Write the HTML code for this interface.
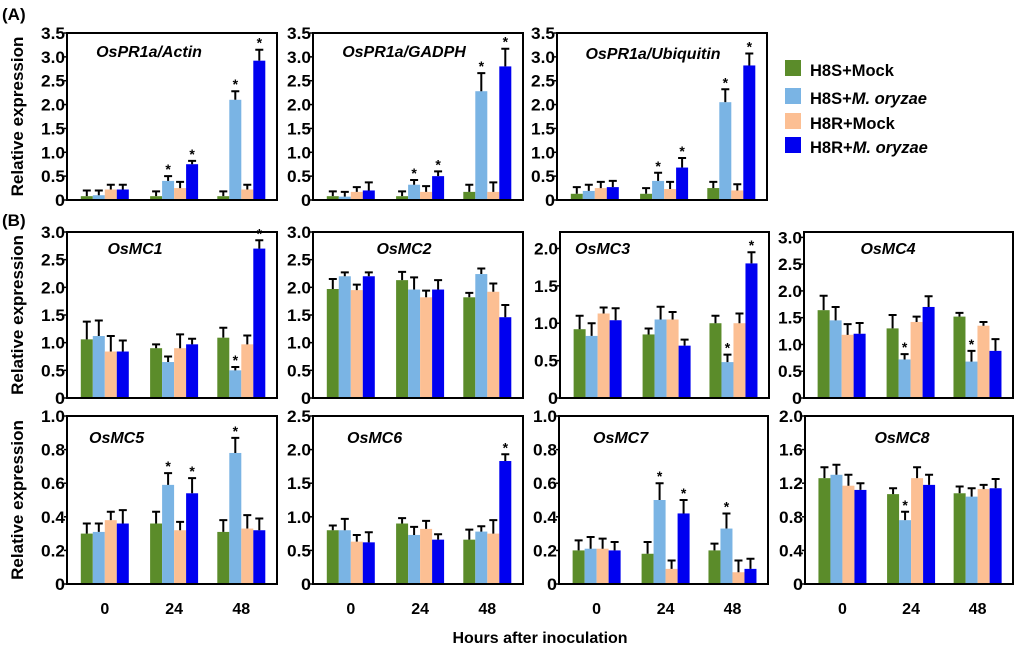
<!DOCTYPE html>
<html><head><meta charset="utf-8">
<style>
body{margin:0;background:#fff;width:1024px;height:656px;overflow:hidden}
svg text{font-family:"Liberation Sans",Arial,sans-serif;font-weight:bold}
</style></head>
<body>
<svg id="fig" width="1024" height="656" viewBox="0 0 1024 656" xmlns="http://www.w3.org/2000/svg">
<text x="2" y="20" font-size="17">(A)</text>
<text x="2" y="226" font-size="17">(B)</text>
<text x="540" y="643" font-size="16" text-anchor="middle">Hours after inoculation</text>
<g>
<rect x="785" y="60" width="16" height="16" fill="#5b8c2a"/>
<text x="810" y="76" font-size="16.5">H8S+Mock</text>
<rect x="785" y="88" width="16" height="16" fill="#7ab4e4"/>
<text x="810" y="104" font-size="16.5">H8S+<tspan font-style="italic">M. oryzae</tspan></text>
<rect x="785" y="113" width="16" height="16" fill="#fcbf93"/>
<text x="810" y="129" font-size="16.5">H8R+Mock</text>
<rect x="785" y="137" width="16" height="16" fill="#0000f0"/>
<text x="810" y="153" font-size="16.5">H8R+<tspan font-style="italic">M. oryzae</tspan></text>
</g>
</svg>
<script>
const categories=["0","24","48"];
const seriesNames=["H8S+Mock","H8S+M. oryzae","H8R+Mock","H8R+M. oryzae"];
const colors=["#5b8c2a","#7ab4e4","#fcbf93","#0000f0"];
const actinVals=[[.08,.1,.22,.22],[.08,.4,.25,.75],[.08,2.1,.22,2.92]];
const actinErr=[[.12,.1,.1,.1],[.1,.1,.13,.07],[.1,.18,.1,.23]];
const gadphVals=[[.08,.07,.17,.2],[.08,.32,.17,.5],[.17,2.28,.17,2.8]];
const gadphErr=[[.1,.1,.1,.17],[.1,.1,.12,.1],[.15,.38,.2,.37]];
const ubiVals=[[.13,.19,.25,.27],[.13,.4,.23,.68],[.25,2.05,.2,2.82]];
const ubiErr=[[.14,.13,.13,.13],[.12,.17,.15,.2],[.13,.27,.13,.25]];
const mc1Vals=[[1.06,1.12,.84,.84],[.9,.65,.9,.97],[1.09,.5,.97,2.7]];
const mc1Err=[[.32,.28,.28,.2],[.07,.1,.25,.1],[.18,.06,.16,.15]];
const mc2Vals=[[1.97,2.2,1.95,2.2],[2.13,1.96,1.82,1.96],[1.82,2.24,1.92,1.46]];
const mc2Err=[[.18,.07,.1,.07],[.15,.22,.12,.17],[.08,.1,.15,.22]];
const mc3Vals=[[.92,.83,1.13,1.04],[.85,1.05,1.05,.7],[1.0,.48,1.0,1.8]];
const mc3Err=[[.18,.17,.08,.16],[.08,.17,.1,.08],[.1,.1,.13,.15]];
const mc4Vals=[[1.64,1.45,1.18,1.2],[1.3,.72,1.42,1.7],[1.52,.68,1.35,.88]];
const mc4Err=[[.27,.25,.2,.2],[.25,.1,.1,.2],[.07,.2,.07,.22]];
const mc5Vals=[[.3,.31,.38,.36],[.36,.59,.32,.54],[.31,.78,.33,.32]];
const mc5Err=[[.06,.05,.05,.08],[.07,.07,.05,.09],[.07,.09,.08,.07]];
const mc6Vals=[[.8,.8,.63,.62],[.9,.73,.82,.66],[.66,.78,.75,1.83]];
const mc6Err=[[.07,.17,.1,.15],[.08,.12,.12,.08],[.15,.08,.2,.1]];
const mc7Vals=[[.2,.21,.21,.2],[.18,.5,.09,.42],[.2,.33,.07,.09]];
const mc7Err=[[.06,.07,.06,.05],[.07,.1,.05,.08],[.04,.09,.07,.06]];
const mc8Vals=[[1.26,1.3,1.17,1.12],[1.07,.76,1.26,1.18],[1.08,1.04,1.13,1.14]];
const mc8Err=[[.13,.12,.13,.08],[.07,.1,.13,.12],[.08,.1,.05,.11]];
const ticks35=["0","0.5","1.0","1.5","2.0","2.5","3.0","3.5"];
const ticks30=["0","0.5","1.0","1.5","2.0","2.5","3.0"];
const ticks20=["0","0.5","1.0","1.5","2.0"];
const ticks25=["0","0.5","1.0","1.5","2.0","2.5"];
const ticks10=["0","0.2","0.4","0.6","0.8","1.0"];
const ticks8=["0","0.4","0.8","1.2","1.6","2.0"];
const starsPR=[[1,1],[1,3],[2,1],[2,3]];
const starsMC1=[[2,1],[2,3]];
const starsMC4=[[1,1],[2,1]];
const starsMC5=[[1,1],[1,3],[2,1]];
const starsMC6=[[2,3]];
const starsMC8=[[1,1]];

const panels=[
 {id:"actin",title:"OsPR1a/Actin",x:67,w:210,top:33,bot:200,max:3.5,ticks:ticks35,v:actinVals,e:actinErr,s:starsPR,tx:149,ty:57,anchor:"middle",ylab:true},
 {id:"gadph",title:"OsPR1a/GADPH",x:313,w:210,top:33,bot:200,max:3.5,ticks:ticks35,v:gadphVals,e:gadphErr,s:starsPR,tx:404,ty:57,anchor:"middle"},
 {id:"ubiquitin",title:"OsPR1a/Ubiquitin",x:557,w:210,top:33,bot:200,max:3.5,ticks:ticks35,v:ubiVals,e:ubiErr,s:starsPR,tx:653,ty:59,anchor:"middle"},
 {id:"osmc1",title:"OsMC1",x:67,w:210,top:232,bot:398,max:3.0,ticks:ticks30,v:mc1Vals,e:mc1Err,s:starsMC1,tx:135,ty:254,anchor:"middle",ylab:true},
 {id:"osmc2",title:"OsMC2",x:313,w:210,top:232,bot:398,max:3.0,ticks:ticks30,v:mc2Vals,e:mc2Err,s:[],tx:404,ty:254,anchor:"middle"},
 {id:"osmc3",title:"OsMC3",x:560,w:209,top:232,bot:398,max:2.22,ticks:ticks20,v:mc3Vals,e:mc3Err,s:starsMC1,tx:575,ty:254,anchor:"start"},
 {id:"osmc4",title:"OsMC4",x:804,w:209,top:232,bot:398,max:3.1,ticks:ticks30,v:mc4Vals,e:mc4Err,s:starsMC4,tx:888,ty:254,anchor:"middle"},
 {id:"osmc5",title:"OsMC5",x:67,w:210,top:416,bot:584,max:1.0,ticks:ticks10,v:mc5Vals,e:mc5Err,s:starsMC5,tx:89,ty:443,anchor:"start",ylab:true,xl:true},
 {id:"osmc6",title:"OsMC6",x:313,w:210,top:416,bot:584,max:2.5,ticks:ticks25,v:mc6Vals,e:mc6Err,s:starsMC6,tx:347,ty:443,anchor:"start",xl:true},
 {id:"osmc7",title:"OsMC7",x:559,w:209,top:416,bot:584,max:1.0,ticks:ticks10,v:mc7Vals,e:mc7Err,s:starsMC5,tx:593,ty:443,anchor:"start",xl:true},
 {id:"osmc8",title:"OsMC8",x:805,w:208,top:416,bot:584,max:2.0,ticks:ticks8,v:mc8Vals,e:mc8Err,s:starsMC8,tx:902,ty:443,anchor:"middle",xl:true}
];
const NS="http://www.w3.org/2000/svg";
const svg=document.getElementById("fig");
function mk(tag,attrs,parent){const el=document.createElementNS(NS,tag);for(const k in attrs)el.setAttribute(k,attrs[k]);(parent||svg).appendChild(el);return el;}
const groupFrac=[0.18,0.51,0.83];
const BW=12;
panels.forEach(p=>{
  const g=mk("g",{});
  
  
  const y=v=>p.bot-(v/p.max)*(p.bot-p.top);
  const xc=i=>p.x+groupFrac[i]*p.w;
  p.ticks.forEach(t=>{
    const ty=y(parseFloat(t));
    const tl=mk("text",{x:p.x-2,y:ty+6,"font-size":17,"text-anchor":"end",textLength:t.length>1?24:10,lengthAdjust:"spacingAndGlyphs"},g);
    tl.textContent=t;
    
    
    const tk=mk("line",{x1:p.x-3,x2:p.x,y1:ty,y2:ty,stroke:"#000","stroke-width":1.5},g);
    
    
  });
  p.v.forEach((grp,gi)=>{
    grp.forEach((val,si)=>{
      const bx=xc(gi)+(si-2)*BW;
      const by=y(val);
      const r=mk("rect",{x:bx,y:by,width:BW,height:p.bot-by,fill:colors[si]},g);
      
      
      const ey=y(val+p.e[gi][si]);
      const cx=bx+BW/2;
      const el=mk("path",{d:`M${cx} ${by}V${ey}M${cx-4} ${ey}H${cx+4}`,stroke:"#000","stroke-width":2,fill:"none"},g);
      
      
    });
  });
  p.s.forEach(([gi,si])=>{
    const val=p.v[gi][si]+p.e[gi][si];
    const st=mk("text",{x:xc(gi)+(si-2)*BW+BW/2,y:y(val)-2,"font-size":14,"text-anchor":"middle","font-weight":"normal"},g);
    st.textContent="*";
    
    
  });
  const box=mk("rect",{x:p.x,y:p.top,width:p.w,height:p.bot-p.top,fill:"none",stroke:"#000","stroke-width":2},g);
  
  
  const t=mk("text",{x:p.tx,y:p.ty,"font-size":16,"font-style":"italic","text-anchor":p.anchor},g);
  t.textContent=p.title;
  
  
  if(p.ylab){
    const cy=(p.top+p.bot)/2;
    const yl=mk("text",{x:0,y:0,"font-size":17,"font-weight":"normal","text-anchor":"middle",transform:`translate(23 ${cy}) rotate(-90)`},g);
    yl.textContent="Relative expression";
    
    
  }
  if(p.xl){
    categories.forEach((c,i)=>{
      const xt=mk("text",{x:xc(i),y:614,"font-size":16,"text-anchor":"middle"},g);
      xt.textContent=c;
      
      
    });
  }
});
</script>
</body></html>
